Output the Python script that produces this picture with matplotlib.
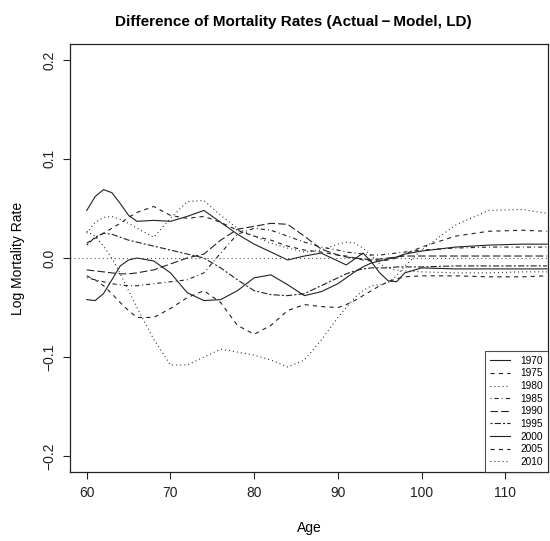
import matplotlib
matplotlib.use("Agg")
import matplotlib.pyplot as plt

plt.rcParams['font.family'] = ['Liberation Sans', 'DejaVu Sans']
plt.rcParams['lines.scale_dashes'] = False

ages = [60, 61, 62, 63, 64, 65, 66, 68, 70, 72, 74, 76, 78, 80, 82, 84, 86, 88, 90,
        91, 92, 93, 94, 95, 96, 97, 98, 100, 104, 108, 112, 115]

years = ['1970', '1975', '1980', '1985', '1990', '1995', '2000', '2005', '2010']

d1970 = [.048, .062, .069, .066, .055, .043, .037, .038, .037, .042, .048, .036, .024, .014, .006, -.002, .002, .005, -.003,
         -.007, -.001, .005, -.004, -.015, -.023, -.024, -.015, -.010, -.011, -.011, -.011, -.011]
d1975 = [.015, .020, .025, .030, .035, .041, .046, .052, .043, .040, .042, .036, .028, .022, .018, .012, .008, .006, .003,
         .002, .000, -.002, -.003, -.003, -.002, .000, .004, .011, .022, .027, .028, .027]
d1980 = [.025, .036, .041, .042, .039, .035, .030, .021, .040, .057, .058, .043, .030, .022, .015, .010, .006, .008, .014,
         .016, .015, .010, .002, -.006, -.010, -.012, -.013, -.014, -.015, -.015, -.014, -.014]
d1985 = [-.020, -.022, -.024, -.026, -.027, -.028, -.028, -.026, -.024, -.022, -.015, .005, .024, .030, .028, .022, .016, .011, .008,
         .006, .005, .004, .003, .003, .004, .005, .006, .008, .010, .011, .011, .011]
d1990 = [-.012, -.013, -.014, -.015, -.016, -.016, -.015, -.012, -.006, .000, .004, .018, .029, .032, .035, .034, .022, .009, .003,
         .001, .000, -.001, -.002, -.001, .000, .001, .002, .002, .002, .002, .002, .002]
d1995 = [.013, .021, .025, .024, .021, .018, .016, .012, .008, .004, .000, -.010, -.022, -.033, -.037, -.038, -.036, -.028, -.020,
         -.016, -.013, -.011, -.010, -.010, -.010, -.009, -.009, -.009, -.008, -.008, -.008, -.008]
d2000 = [-.042, -.043, -.036, -.022, -.008, -.002, .000, -.003, -.015, -.035, -.043, -.042, -.033, -.020, -.017, -.027, -.038, -.034, -.026,
         -.020, -.014, -.009, -.005, -.003, -.001, .001, .004, .007, .011, .013, .014, .014]
d2005 = [-.018, -.022, -.028, -.036, -.045, -.053, -.060, -.060, -.051, -.040, -.033, -.045, -.068, -.077, -.068, -.053, -.047, -.049, -.050,
         -.047, -.043, -.038, -.033, -.028, -.024, -.021, -.019, -.018, -.018, -.019, -.019, -.018]
d2010 = [.027, .022, .012, .000, -.016, -.033, -.050, -.082, -.108, -.108, -.100, -.092, -.095, -.098, -.103, -.110, -.103, -.083, -.060,
         -.050, -.040, -.033, -.028, -.027, -.025, -.018, -.008, .008, .033, .048, .049, .045]

series = [d1970, d1975, d1980, d1985, d1990, d1995, d2000, d2005, d2010]

# R line types 1..6, recycled
solid = '-'
dashed = (0, (3, 3))
dotted = (0, (0.7, 2.2))
dotdash = (0, (0.7, 2.2, 3, 2.2))
longdash = (0, (5.5, 2.2))
twodash = (0, (1.5, 1.5, 4.5, 1.5))
styles = [solid, dashed, dotted, dotdash, longdash, twodash, solid, dashed, dotted]

fig = plt.figure(figsize=(5.5, 5.41), dpi=100)
ax = fig.add_axes([70 / 550, 69 / 541, 478 / 550, 428 / 541])

for vals, ls, lab in zip(series, styles, years):
    ax.plot(ages, vals, color='#222222', linewidth=0.8, linestyle=ls, label=lab)

ax.axhline(0, color='#444444', linewidth=0.8, linestyle=dotted)

ax.set_xlim(58.0, 115.1)
ax.set_ylim(-0.216, 0.216)
ax.set_xticks([60, 70, 80, 90, 100, 110])
ax.set_yticks([-0.2, -0.1, 0.0, 0.1, 0.2])
ax.set_yticklabels(['\u22120.2', '\u22120.1', '0.0', '0.1', '0.2'], rotation=90, va='center')
ax.tick_params(direction='out', length=5, width=0.8, labelsize=10, pad=5, colors='#222222')
for sp in ax.spines.values():
    sp.set_linewidth(0.9)
    sp.set_color('#222222')

ax.set_xlabel('Age', fontsize=10, labelpad=15)
ax.set_ylabel('Log Mortality Rate', fontsize=10, labelpad=12)
fig.text(293 / 550, 1 - 22 / 541, 'Difference of Mortality Rates (Actual\u2009\u2212\u2009Model, LD)',
         ha='center', va='center', fontsize=11, fontweight='bold')

leg = ax.legend(loc='lower right', fontsize=7.3, frameon=True, fancybox=False,
                borderaxespad=0, handlelength=2.0, handletextpad=1.0,
                labelspacing=0.26, borderpad=0.5)
leg.get_frame().set_edgecolor('#222222')
leg.get_frame().set_linewidth(0.8)

fig.savefig('out.png', dpi=100)
